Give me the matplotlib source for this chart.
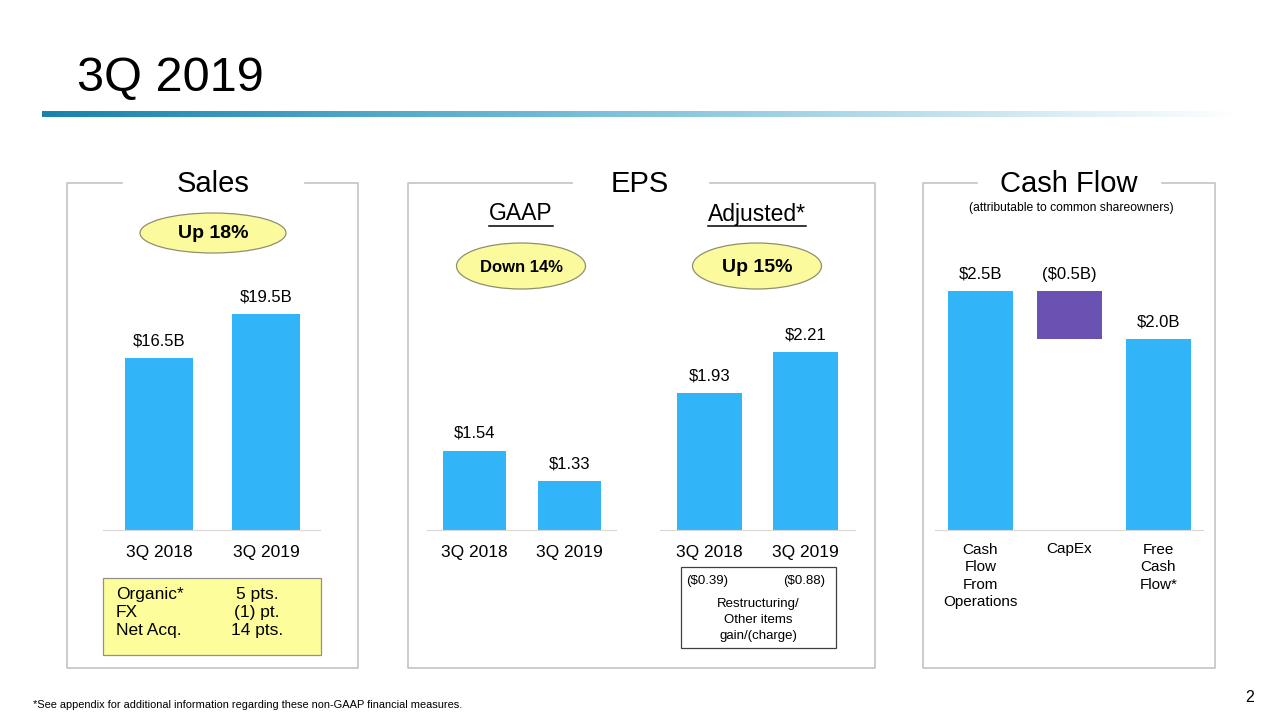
import numpy as np
import matplotlib
matplotlib.use("Agg")
import matplotlib.pyplot as plt
from matplotlib.patches import Ellipse, Rectangle
from matplotlib.colors import LinearSegmentedColormap

plt.rcParams['font.family'] = ['Liberation Sans', 'DejaVu Sans']

# data
periods = ['3Q 2018', '3Q 2019']
sales_values = [16.5, 19.5]
sales_labels = ['$16.5B', '$19.5B']
gaap_eps = [1.54, 1.33]
gaap_labels = ['$1.54', '$1.33']
adj_eps = [1.93, 2.21]
adj_labels = ['$1.93', '$2.21']
cash_items = ['Cash\nFlow\nFrom\nOperations', 'CapEx', 'Free\nCash\nFlow*']
cash_values = [2.5, -0.5, 2.0]
cash_labels = ['$2.5B', '($0.5B)', '$2.0B']
bridge_names = ['Organic*', 'FX', 'Net Acq.']
bridge_pts = ['5 pts.', '(1) pt.', '14 pts.']
restructuring = ['($0.39)', '($0.88)']

W, H = 1280, 720
BLUE = '#31b4f8'
PURPLE = '#6a52b3'
FRAME = '#c4c4c4'
YELLOW = '#fbfb9e'

fig = plt.figure(figsize=(12.8, 7.2), dpi=100)
fig.patch.set_facecolor('white')

bg = fig.add_axes([0, 0, 1, 1])
bg.set_facecolor('none')
bg.axis('off')


def rect(x0, y0, x1, y1):
    return [x0 / W, 1 - y1 / H, (x1 - x0) / W, (y1 - y0) / H]


# title + gradient bar
bg.text(77, 79, '3Q 2019', fontsize=35, ha='left', va='center')
cmap = LinearSegmentedColormap.from_list('g', [(0, '#1683ab'), (0.4, '#6bb8d4'), (1, '#ffffff')])
bg.imshow(np.linspace(0, 1, 256)[None, :], extent=[42, 1240, 117, 111], aspect='auto', cmap=cmap)
bg.set_xlim(0, W)
bg.set_ylim(H, 0)


# panel frames with a gap for the heading
def frame(x0, x1, gap0, gap1, title, tx):
    kw = dict(color=FRAME, lw=1.2)
    bg.plot([gap0, x0, x0, x1, x1, gap1], [183, 183, 668, 668, 183, 183], **kw)
    bg.text(tx, 184, title, fontsize=21, ha='center', va='center')


frame(67, 358, 122, 305, 'Sales', 213)
frame(408, 875, 572, 710, 'EPS', 640)
frame(923, 1215, 977, 1162, 'Cash Flow', 1069)
bg.text(1071, 208, '(attributable to common shareowners)', fontsize=8.7, ha='center', va='center')

# underlined sub headings
subs = [bg.text(521, 214, 'GAAP', fontsize=16.5, ha='center', va='center'),
        bg.text(757, 214, 'Adjusted*', fontsize=16.5, ha='center', va='center')]
fig.canvas.draw()
rend = fig.canvas.get_renderer()
for t in subs:
    bb = t.get_window_extent(rend)
    bg.plot([bb.x0, bb.x1], [226, 226], color='black', lw=1.1)


# callout ellipses
def bubble(cx, cy, w, h, txt, fs):
    bg.add_patch(Ellipse((cx, cy), w, h, facecolor=YELLOW, edgecolor='#8f8f70', lw=0.9))
    bg.text(cx, cy + 1, txt, fontsize=fs, fontweight='bold', ha='center', va='center')


bubble(213, 233, 146, 40, 'Up 18%', 14)
bubble(521, 266, 129, 46, 'Down 14%', 12)
bubble(757, 266, 129, 46, 'Up 15%', 14)


# bar panels
def bar_panel(box, cats, heights, bottoms, xlim, ylim, width, colors, labels, fs=12.5):
    ax = fig.add_axes(rect(*box))
    ax.set_facecolor('none')
    x = np.arange(len(cats))
    ax.bar(x, heights, bottom=bottoms, width=width, color=colors)
    ax.set_xlim(*xlim)
    ax.set_ylim(*ylim)
    for s in ['top', 'left', 'right']:
        ax.spines[s].set_visible(False)
    ax.spines['bottom'].set_color('#d8d8d8')
    ax.set_yticks([])
    ax.set_xticks(x, cats)
    ax.tick_params(axis='x', length=0, pad=10.5, labelsize=fs)
    for xi, h, b, lab in zip(x, heights, bottoms, labels):
        ax.annotate(lab, (xi, b + h), xytext=(0, 7), textcoords='offset points',
                    ha='center', va='bottom', fontsize=12)
    return ax


bar_panel((103, 280, 320, 530), periods, sales_values, [0, 0],
          (-0.523, 1.505), (4.8, 21.8), 0.636, BLUE, sales_labels)
bar_panel((427, 280, 616, 530), periods, gaap_eps, [0, 0],
          (-0.503, 1.497), (1.0, 2.70), 0.667, BLUE, gaap_labels)
bar_panel((660, 280, 855, 530), periods, adj_eps, [0, 0],
          (-0.516, 1.516), (1.0, 2.70), 0.677, BLUE, adj_labels)

cash_bottoms = [0, cash_values[0] + cash_values[1], 0]
cash_heights = [cash_values[0], -cash_values[1], cash_values[2]]
axc = bar_panel((935, 280, 1203, 530), cash_items, cash_heights, cash_bottoms,
                (-0.511, 2.5), (0, 2.618), 0.73, [BLUE, PURPLE, BLUE], cash_labels, fs=11)
axc.tick_params(axis='x', pad=9)
for lab in axc.get_xticklabels():
    lab.set_va('top')
    lab.set_multialignment('center')
    lab.set_linespacing(1.32)
# CapEx label sits level with the CFO label
axc.texts[1].xy = (1, cash_values[0])

# sales bridge box
bg.add_patch(Rectangle((103, 578), 218, 77, facecolor='#fdfd9c', edgecolor='#909090', lw=0.9))
for i, (n, p) in enumerate(zip(bridge_names, bridge_pts)):
    y = 594 + 18.5 * i
    bg.text(116, y, n, fontsize=12.5, ha='left', va='center')
    bg.text(257, y, p, fontsize=12.5, ha='center', va='center')

# restructuring box
bg.add_patch(Rectangle((681, 567), 155, 81, facecolor='white', edgecolor='#404040', lw=0.9))
bg.text(707, 581, restructuring[0], fontsize=9.5, ha='center', va='center')
bg.text(804, 581, restructuring[1], fontsize=9.5, ha='center', va='center')
bg.text(758, 620, 'Restructuring/\nOther items\ngain/(charge)', fontsize=9.5,
        ha='center', va='center', linespacing=1.42)

# footnote and page number
bg.text(33, 705, '*See appendix for additional information regarding these non-GAAP financial measures.',
        fontsize=7.9, ha='left', va='center')
bg.text(1250, 697, '2', fontsize=11.5, ha='center', va='center')

fig.savefig('out.png', dpi=100)
